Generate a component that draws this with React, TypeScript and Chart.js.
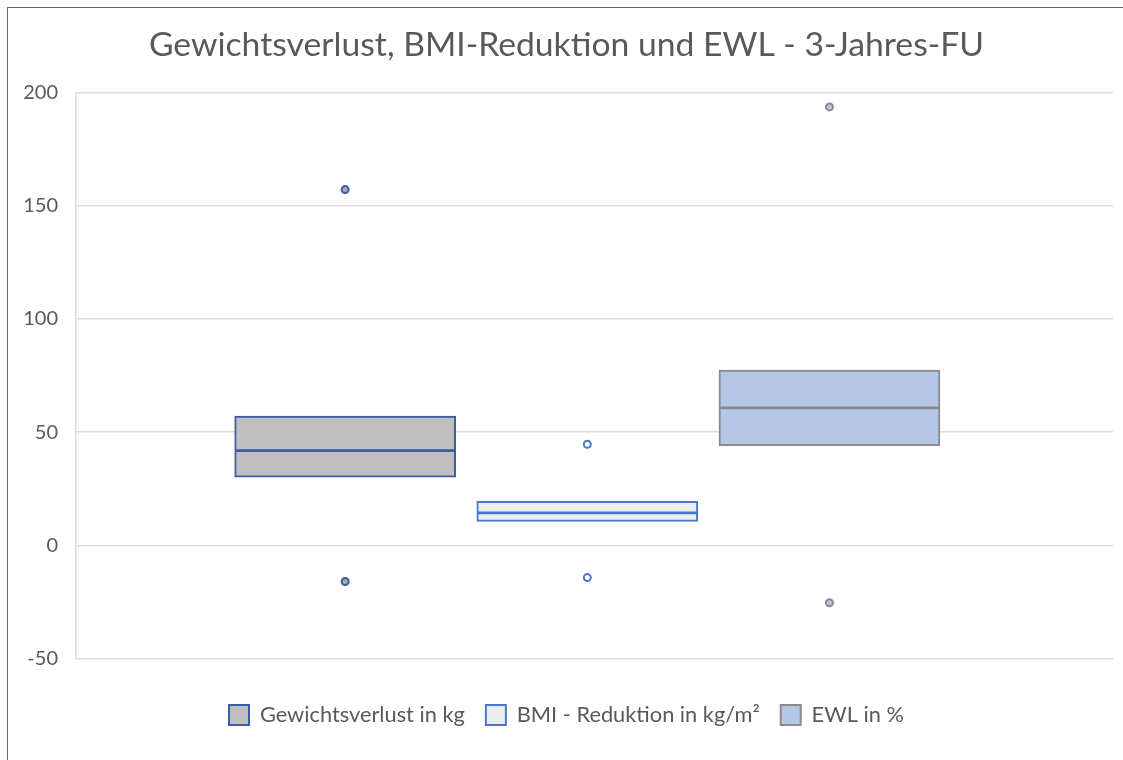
import React, { useEffect, useRef } from "react";
import { Chart, registerables } from "chart.js";

Chart.register(...registerables);

const seriesNames = ["Gewichtsverlust in kg", "BMI - Reduktion in kg/m²", "EWL in %"];
const positions = [1, 2, 3];
const q1Values = [30.1, 10.6, 44.0];
const q3Values = [57.1, 19.5, 77.4];
const medianValues = [42.3, 14.8, 61.2];
const maxValues = [157.1, 44.7, 193.6];
const minValues = [-15.9, -14.2, -25.3];
const yTicks = [-50, 0, 50, 100, 150, 200];

const boxFill = ["#BFBFBF", "#EDEDED", "#B4C7E7"];
const boxBorder = ["#3A5DA6", "#4A77C9", "#8A8A8A"];
const pointFill = ["#A9A9A9", "#FFFFFF", "#B4C7E7"];

const FONT = "Lato, 'Open Sans', sans-serif";
const TEXT = "#595959";

export default function App() {
  const ref = useRef<HTMLCanvasElement | null>(null);

  useEffect(() => {
    if (!ref.current) return;
    const boxes = positions.map((x, i) => ({ x, y: [q1Values[i], q3Values[i]] }));
    const medians = positions.map((x, i) => ({ x, y: [medianValues[i], medianValues[i]] }));
    const outliers = [
      ...positions.map((x, i) => ({ x, y: maxValues[i] })),
      ...positions.map((x, i) => ({ x, y: minValues[i] })),
    ];
    const chart = new Chart(ref.current, {
      type: "bar",
      data: {
        datasets: [
          {
            type: "bar",
            label: "boxes",
            data: boxes as any,
            backgroundColor: boxFill,
            borderColor: boxBorder,
            borderWidth: 2,
            borderSkipped: false,
            barThickness: 221,
            grouped: false,
            order: 3,
          } as any,
          {
            type: "bar",
            label: "median",
            data: medians as any,
            backgroundColor: boxBorder,
            borderWidth: 0,
            minBarLength: 2,
            barThickness: 219,
            grouped: false,
            order: 2,
          } as any,
          {
            type: "scatter",
            label: "outliers",
            data: outliers,
            pointStyle: "circle",
            radius: 3.5,
            backgroundColor: [...pointFill, ...pointFill],
            borderColor: [...boxBorder, ...boxBorder],
            borderWidth: 2,
            order: 1,
          } as any,
        ],
      },
      options: {
        responsive: false,
        animation: false,
        events: [],
        layout: { padding: { left: 20, right: 10, top: 0, bottom: 24 } },
        scales: {
          x: {
            type: "linear",
            min: -0.1116,
            max: 4.171,
            offset: false,
            display: true,
            ticks: { display: false },
            grid: { display: false, offset: false },
            border: { display: false },
            afterFit: (s: any) => {
              s.height = 24.5;
            },
          },
          y: {
            type: "linear",
            min: -50,
            max: 200,
            afterBuildTicks: (s: any) => {
              s.ticks = yTicks.map((v) => ({ value: v }));
            },
            afterFit: (s: any) => {
              s.width = 56;
            },
            ticks: {
              color: TEXT,
              font: { family: FONT, size: 20 },
              padding: 18,
            },
            grid: { color: "#DCDCDC", lineWidth: 1.5, drawTicks: false },
            border: { display: true, color: "#DCDCDC", width: 1.5 },
          },
        },
        plugins: {
          title: {
            display: true,
            text: "Gewichtsverlust, BMI-Reduktion und EWL - 3-Jahres-FU",
            color: TEXT,
            font: { family: FONT, size: 33.7, weight: "normal" },
            padding: { top: 25, bottom: 27 },
          },
          legend: {
            display: true,
            position: "bottom",
            labels: {
              color: TEXT,
              font: { family: FONT, size: 21.8 },
              boxWidth: 20,
              boxHeight: 20,
              padding: 21,
              generateLabels: () =>
                seriesNames.map((name, i) => ({
                  text: name,
                  fillStyle: boxFill[i],
                  strokeStyle: boxBorder[i],
                  lineWidth: 2,
                  fontColor: TEXT,
                  hidden: false,
                  datasetIndex: 0,
                })),
            },
          },
          tooltip: { enabled: false },
        },
      },
    });
    return () => chart.destroy();
  }, []);

  return (
    <div style={{ position: "absolute", left: 0, top: 0, width: 1123, height: 760, background: "#fff" }}>
      <canvas ref={ref} width={1123} height={760} style={{ position: "absolute", left: 0, top: 0 }} />
      <div
        style={{
          position: "absolute",
          left: 7,
          top: 7,
          right: 0,
          bottom: 0,
          borderLeft: "1px solid #666",
          borderTop: "1px solid #666",
          pointerEvents: "none",
        }}
      />
    </div>
  );
}
